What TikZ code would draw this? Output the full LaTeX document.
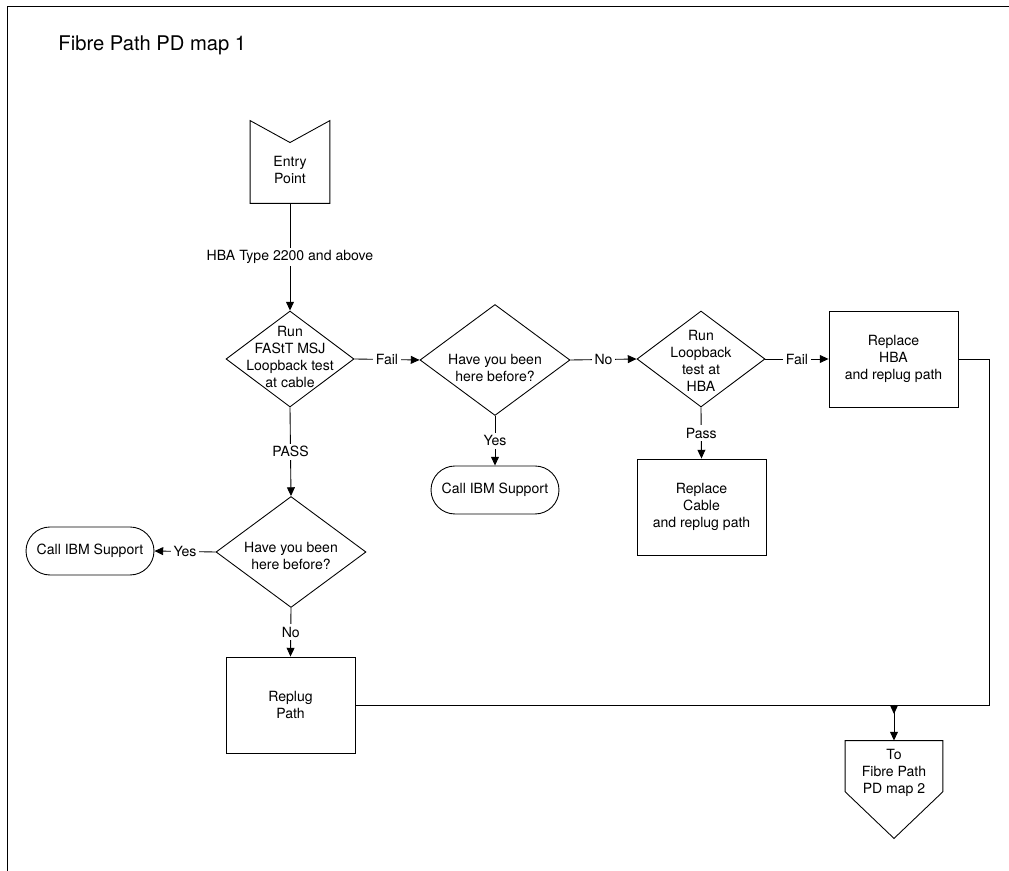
\documentclass[tikz,border=0pt]{standalone}
\usepackage{fontspec}
\setmainfont{TeX Gyre Heros}
\usetikzlibrary{shapes.geometric,shapes.misc,arrows.meta}

\begin{document}
\begin{tikzpicture}[x=0.02cm,y=-0.02cm,line width=0.5pt]

    \tikzset{txt/.style={font=\fontsize{8}{9.6}\selectfont,align=center}}
    \tikzset{boxstyle/.style={draw,rectangle,minimum width=2.58cm,minimum height=1.92cm,inner sep=0pt,txt}}
    \tikzset{decision/.style={draw,diamond,inner sep=0pt,minimum width=2.56cm,minimum height=1.92cm}}
    \tikzset{bigdecision/.style={decision,minimum width=3cm,minimum height=2.22cm}}
    \tikzset{terminal/.style={draw,rounded rectangle,minimum width=2.56cm,minimum height=0.96cm,inner sep=0pt,txt}}
    \tikzset{lbl/.style={fill=white,inner sep=1.5pt,txt}}
    \tikzset{arr/.style={-{Triangle[length=5pt,width=4.5pt]}}}

    \useasboundingbox (0,0) rectangle (1009,871);
    \draw[line width=1.1pt] (7.5,871) -- (7.5,6.5) -- (1009,6.5);

    \node[anchor=west,inner sep=0pt,font=\fontsize{11.5}{13}\selectfont] (title) at (58,45) {Fibre Path PD map 1};

    % entry and exit
    \node[minimum width=1.58cm,minimum height=1.64cm,inner sep=0pt] (entry) at (290,162) {};
    \node[txt] (entrytxt) at (290,170) {Entry\\Point};
    \draw (entry.north west) -- (entry.south west) -- (entry.south east) -- (entry.north east) -- ([yshift=-12.5pt]entry.north) -- cycle;

    \node[minimum width=1.94cm,minimum height=1.94cm,inner sep=0pt] (to) at (894,789.5) {};
    \node[txt] (totxt) at (894,773) {To\\Fibre Path\\PD map 2};
    \draw (to.north west) -- (to.north east) -- ([yshift=26.6pt]to.south east) -- (to.south) -- ([yshift=26.6pt]to.south west) -- cycle;

    % decisions
    \node[decision] (d1) at (290,359) {};
    \node[txt] (d1txt) at (290,357) {Run\\FAStT MSJ\\Loopback test\\at cable};
    \node[bigdecision] (d2) at (495,360) {};
    \node[txt] (d2txt) at (495,368) {Have you been\\here before?};
    \node[decision] (d3) at (701,359) {};
    \node[txt] (d3txt) at (701,361) {Run\\Loopback\\test at\\HBA};
    \node[bigdecision] (d4) at (291,552) {};
    \node[txt] (d4txt) at (291,556) {Have you been\\here before?};

    % actions
    \node[boxstyle] (hba) at (893.5,359) {Replace\\HBA\\and replug path};
    \node[boxstyle] (cable) at (701.5,507) {Replace\\Cable\\and replug path};
    \node[boxstyle] (replug) at (290.5,705) {Replug\\Path};
    \node[terminal] (call1) at (495,490) {Call IBM Support};
    \node[terminal] (call2) at (90,551) {Call IBM Support};

    \coordinate (turn) at (989,359);
    \coordinate (merge) at (894,705);

    \draw[arr] (entry.south) -- node[lbl] {HBA Type 2200 and above} (d1.north);
    \draw[arr] (d1.east) -- node[lbl] {Fail} (d2.west);
    \draw[arr] (d2.east) -- node[lbl] {No} (d3.west);
    \draw[arr] (d3.east) -- node[lbl] {Fail} (hba.west);
    \draw[arr] (d2.south) -- node[lbl] {Yes} (call1.north);
    \draw[arr] (d3.south) -- node[lbl] {Pass} (cable.north);
    \draw[arr] (d1.south) -- node[lbl] {PASS} (d4.north);
    \draw[arr] (d4.west) -- node[lbl] {Yes} (call2.east);
    \draw[arr] (d4.south) -- node[lbl] {No} (replug.north);

    \draw (hba.east) -- (turn) |- (merge);
    \draw (replug.east) -- (merge);
    \draw[arr] (merge) -- ++(0,9);
    \draw[arr] (merge) -- (to.north);

\end{tikzpicture}
\end{document}
